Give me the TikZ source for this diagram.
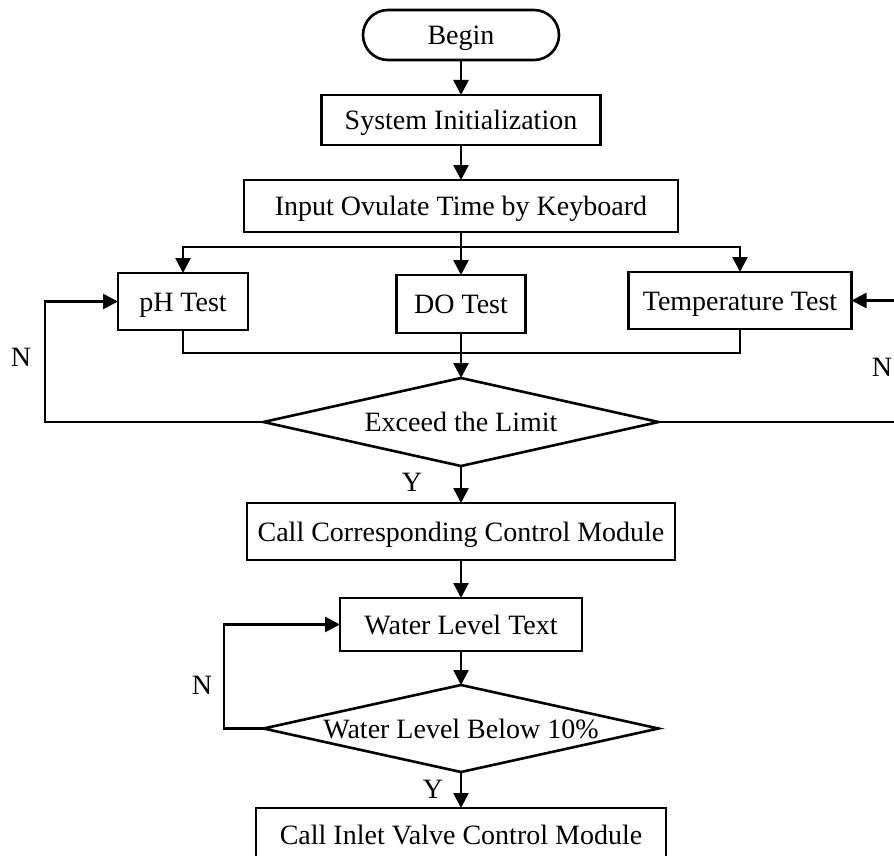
\documentclass[tikz,border=0pt]{standalone}
\usepackage{fontspec}
\setmainfont{Liberation Serif}
\usetikzlibrary{shapes.geometric,shapes.misc,arrows.meta}
\begin{document}
\begin{tikzpicture}[x=0.5pt,y=-0.5pt,
  font=\fontsize{14}{16}\selectfont,
  every node/.style={line width=1.3pt, outer sep=0pt, inner sep=0pt, text height=9.5pt, text depth=0pt},
  box/.style={draw, rectangle},
  term/.style={draw, rounded rectangle},
  dec/.style={draw, diamond, aspect=4.5},
  conn/.style={line width=1.3pt},
  arr/.style={conn, -{Triangle[length=7.5pt,width=7.5pt]}}
]
\useasboundingbox (0,0) rectangle (894,856);

\node[term, minimum width=98pt, minimum height=25pt] (begin) at (461,35) {Begin};
\node[box, minimum width=139.5pt, minimum height=25pt] (sys) at (461,120) {System Initialization};
\node[box, minimum width=217pt, minimum height=26pt] (input) at (461,206) {Input Ovulate Time by Keyboard};
\node[box, minimum width=65pt, minimum height=28.5pt] (ph) at (183,301.5) {pH Test};
\node[box, minimum width=64.5pt, minimum height=29pt] (do) at (461,304) {DO Test};
\node[box, minimum width=111.5pt, minimum height=28.5pt] (temp) at (740,300.5) {Temperature Test};
\node[dec, minimum width=197.5pt, minimum height=44pt] (d1) at (461,422) {Exceed the Limit};
\node[box, minimum width=214pt, minimum height=28.5pt] (call) at (461,531.5) {Call Corresponding Control Module};
\node[box, minimum width=121pt, minimum height=26.5pt] (wlt) at (461,624.5) {Water Level Text};
\node[dec, minimum width=197.5pt, minimum height=43.5pt] (d2) at (461,728.5) {Water Level Below 10\%};
\node[box, minimum width=205pt, minimum height=26.5pt] (inlet) at (461,834.5) {Call Inlet Valve Control Module};

\coordinate (split) at (461,247);
\coordinate (join) at (461,353);
\coordinate (lloop) at (45,422);
\coordinate (rloop) at (902,422);
\coordinate (lloop2) at (224,728.5);

\draw[arr] (begin) -- (sys);
\draw[arr] (sys) -- (input);
\draw[conn] (input.south) -- (split);
\draw[arr] (split) -| (ph.north);
\draw[arr] (split) -- (do.north);
\draw[arr] (split) -| (temp.north);
\draw[conn] (ph.south) |- (join) -| (temp.south);
\draw[arr] (do) -- (d1);
\draw[arr] (d1.west) -- (lloop) |- (ph.west);
\draw[arr] (d1.east) -- (rloop) |- (temp.east);
\draw[arr] (d1) -- (call);
\draw[arr] (call) -- (wlt);
\draw[arr] (wlt) -- (d2);
\draw[arr] (d2.west) -- (lloop2) |- (wlt.west);
\draw[arr] (d2) -- (inlet);

\node (n1) at (21,357) {N};
\node (n2) at (882,367) {N};
\node (y1) at (412,482) {Y};
\node (y2) at (433,789) {Y};
\node (n3) at (202,685) {N};
\end{tikzpicture}
\end{document}
